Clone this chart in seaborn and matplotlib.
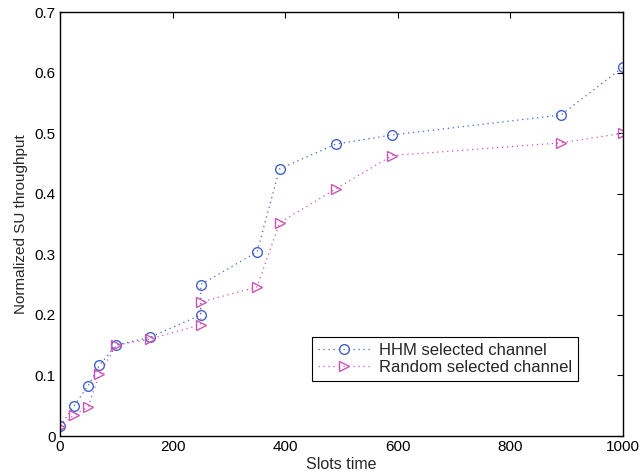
import matplotlib
matplotlib.use('Agg')
import matplotlib.pyplot as plt
import seaborn as sns

# datos
slots = [0, 25, 50, 70, 100, 160, 250, 250, 350, 390, 490, 590, 890, 1000]
hhm = [0.016, 0.050, 0.083, 0.117, 0.150, 0.163, 0.200, 0.250, 0.304, 0.441, 0.482, 0.497, 0.530, 0.609]
random_sel = [0.015, 0.035, 0.048, 0.102, 0.150, 0.160, 0.184, 0.221, 0.246, 0.352, 0.408, 0.463, 0.484, 0.500]

sns.set_style('white')
plt.rcParams['font.family'] = ['Liberation Sans', 'DejaVu Sans']

fig = plt.figure(figsize=(6.42, 4.75), dpi=100)
ax = fig.add_axes([60 / 642, 1 - 436 / 475, 563 / 642, 424 / 475])

dots = (0, (1, 3))
sns.lineplot(x=slots, y=hhm, sort=False, estimator=None, ax=ax, color='#4463c8',
             linestyle=dots, linewidth=0.9, marker='o', markersize=7,
             markerfacecolor='none', markeredgecolor='#4463c8', markeredgewidth=1.0,
             label='HHM selected channel')
sns.lineplot(x=slots, y=random_sel, sort=False, estimator=None, ax=ax, color='#cc55b4',
             linestyle=dots, linewidth=0.9, marker='>', markersize=7.5,
             markerfacecolor='none', markeredgecolor='#cc55b4', markeredgewidth=1.0,
             label='Random selected channel')

ax.set_xlim(0, 1000)
ax.set_ylim(0, 0.7)
ax.set_xticks([0, 200, 400, 600, 800, 1000])
ax.set_yticks([0, 0.1, 0.2, 0.3, 0.4, 0.5, 0.6, 0.7])
ax.set_yticklabels(['0', '0.1', '0.2', '0.3', '0.4', '0.5', '0.6', '0.7'])
ax.tick_params(direction='in', top=True, right=True, length=4, width=0.8,
               labelsize=11, colors='black', pad=3)
for s in ax.spines.values():
    s.set_color('black')
    s.set_linewidth(1.0)

ax.set_xlabel('Slots time', fontsize=11.5, labelpad=2)
ax.set_ylabel('Normalized SU throughput', fontsize=11, labelpad=5)

leg = ax.legend(loc='upper left', bbox_to_anchor=(0.4476, 0.2335), borderaxespad=0,
                fontsize=12, frameon=True, fancybox=False, edgecolor='black',
                framealpha=1, handlelength=3.2, borderpad=0.35, labelspacing=0.15,
                handletextpad=0.5)
leg.get_frame().set_linewidth(0.8)

plt.savefig('out.png', dpi=100)
